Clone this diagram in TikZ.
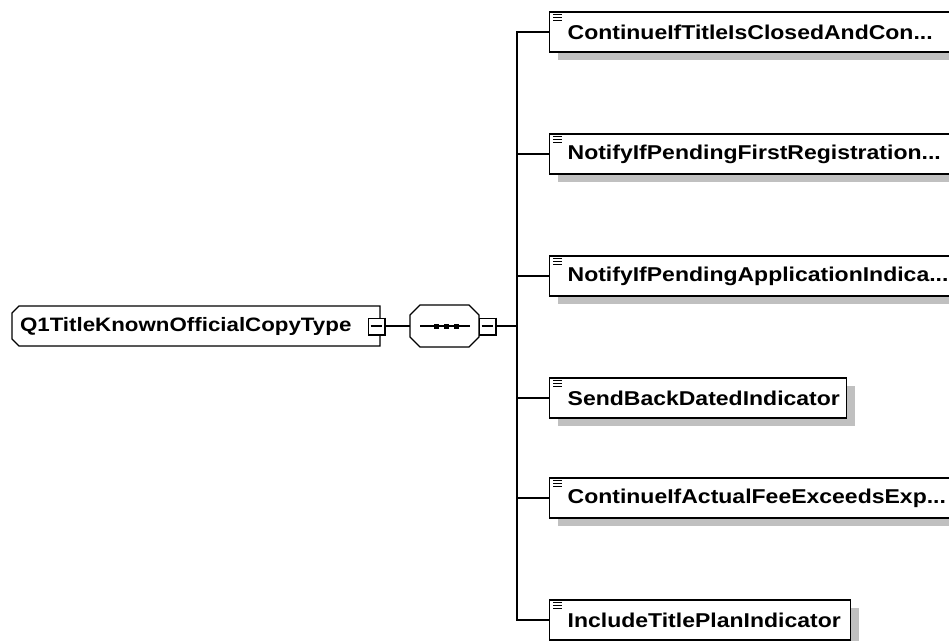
\documentclass[tikz,border=0pt]{standalone}
\usepackage{fontspec}
\setmainfont{Liberation Sans}[FakeStretch=1.15]
\usetikzlibrary{shadows,backgrounds}
\definecolor{shgray}{HTML}{C0C0C0}
\newcommand{\tdots}{...}
\begin{document}
\begin{tikzpicture}[x=1pt,y=-1pt,
  lbl/.style={font=\fontsize{20}{23}\selectfont\bfseries},
  shadowed/.style={general shadow={fill=shgray,shadow xshift=8pt,shadow yshift=-8pt}},
  childbox/.style={lbl,draw,line width=1.3pt,fill=white,shadowed,minimum height=40pt,
     anchor=west,inner xsep=18pt,inner ysep=0pt,align=left},
  rootbox/.style={font=\fontsize{19.4}{23}\selectfont\bfseries,minimum width=368pt,minimum height=40pt,
     inner xsep=8pt,inner ysep=0pt,outer sep=0pt},
  seqbox/.style={minimum width=69pt,minimum height=42pt,inner sep=0pt,outer sep=0pt},
  outline/.style={draw,line width=1.1pt,fill=white},
  shade/.style={fill=shgray,shift={(8,8)}},
  minusbox/.style={draw,fill=white,line width=1pt,minimum size=16pt,inner sep=0pt},
  conn/.style={line width=1.1pt},
  icon/.style={line width=1.1pt}
]
\useasboundingbox (0,0) rectangle (949,640);
\clip (0,0) rectangle (949,640);

% root element
\node[rootbox] (root) at (196,326) {\makebox[352pt][l]{Q1TitleKnownOfficialCopyType}};
% sequence compositor
\node[seqbox] (seq) at (444.5,326) {};

\begin{scope}[on background layer]
  \foreach \st in {shade,outline}{
    \path[\st] ([xshift=7pt]root.north west) -- (root.north east) -- (root.south east)
      -- ([xshift=7pt]root.south west) -- ([yshift=7pt]root.south west)
      -- ([yshift=-7pt]root.north west) -- cycle;
    \path[\st] ([xshift=10pt]seq.north west) -- ([xshift=-10pt]seq.north east)
      -- ([yshift=-10pt]seq.north east) -- ([yshift=10pt]seq.south east)
      -- ([xshift=-10pt]seq.south east) -- ([xshift=10pt]seq.south west)
      -- ([yshift=10pt]seq.south west) -- ([yshift=-10pt]seq.north west) -- cycle;
  }
\end{scope}

\node[minusbox] (m1) at ([xshift=-4pt]root.east) {};
\draw[line width=2pt] (m1.north east) -- (m1.south east) -- (m1.south west);
\draw[conn] ([xshift=3pt]m1.west) -- ([xshift=-3pt]m1.east);

\draw[conn] ([xshift=-24.5pt]seq.center) -- ([xshift=25.5pt]seq.center);
\foreach \dx in {-8.5,1.5,11.5}
  \fill ([xshift=\dx pt]seq.center) +(-2.5,-2.5) rectangle +(2.5,2.5);
\node[minusbox] (m2) at ([xshift=8pt]seq.east) {};
\draw[line width=2pt] (m2.north east) -- (m2.south east) -- (m2.south west);
\draw[conn] ([xshift=3pt]m2.west) -- ([xshift=-3pt]m2.east);

\draw[conn] (m1.east) -- (seq.west);
\coordinate (j) at (517,326);
\draw[conn] (m2.east) -- (j);

% children
\foreach \n/\y/\w/\t in {
  c1/32/400/ContinueIfTitleIsClosedAndCon\tdots,
  c2/154/400/NotifyIfPendingFirstRegistration\tdots,
  c3/276/400/NotifyIfPendingApplicationIndica\tdots,
  c4/398/261/SendBackDatedIndicator,
  c5/498/400/ContinueIfActualFeeExceedsExp\tdots,
  c6/620/265/IncludeTitlePlanIndicator}{
  \node[childbox,text width=\w pt] (\n) at (549,\y) {\t};
  \foreach \k in {0,1,2}
    \draw[icon] ([shift={(4,3.5+2.8*\k)}]\n.north west) -- ++(9,0);
  \draw[conn] (\n.west) -| (j);
}
\end{tikzpicture}
\end{document}
